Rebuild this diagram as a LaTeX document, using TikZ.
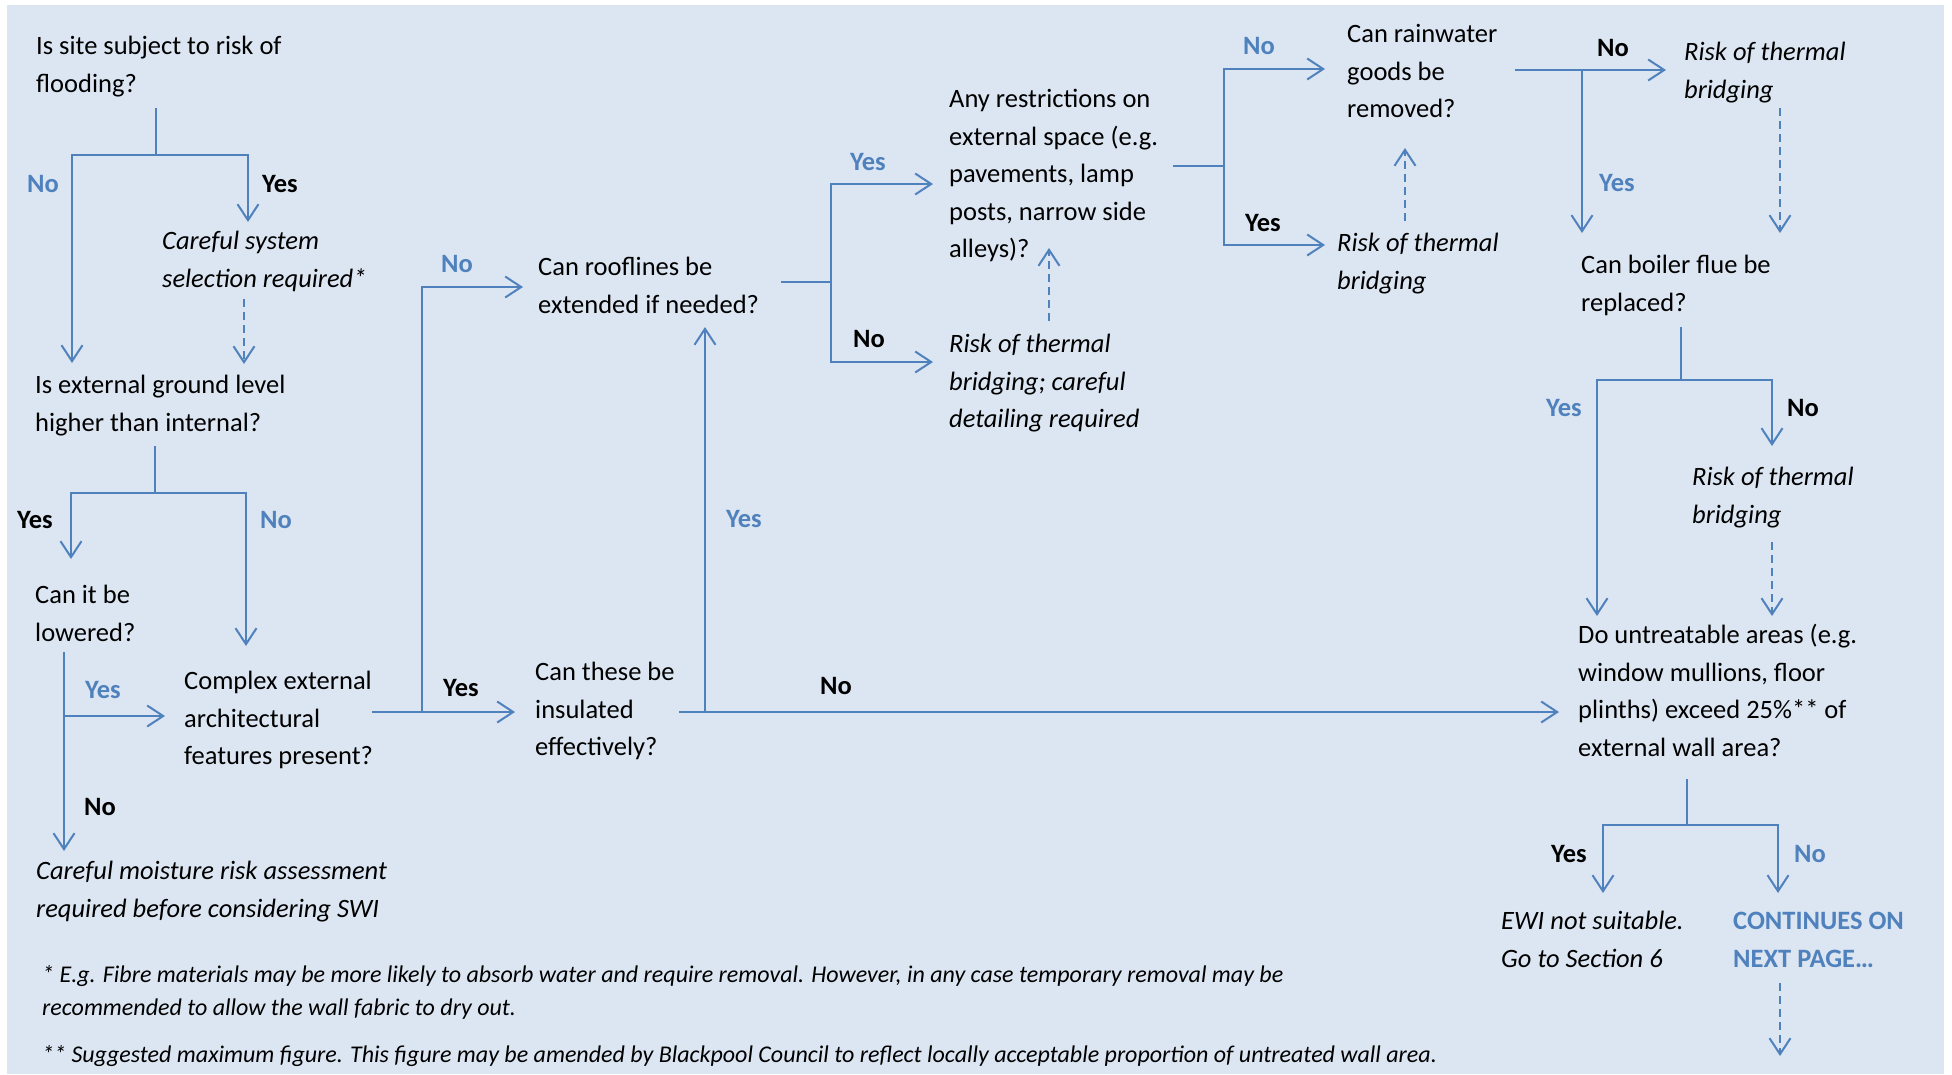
\documentclass[tikz,border=0pt]{standalone}
\usepackage{fontspec}
\setmainfont{Carlito}
\usetikzlibrary{arrows.meta}
\definecolor{bgblue}{HTML}{DCE6F2}
\definecolor{lnblue}{HTML}{4F81BD}
\begin{document}
\begin{tikzpicture}[x=1pt,y=-1pt,
  txt/.style={anchor=base west, inner sep=0pt, align=left, yshift=-1.5pt, font=\fontsize{26.5}{37.5}\selectfont},
  itx/.style={txt, font=\fontsize{26.5}{37.5}\selectfont\itshape},
  lblue/.style={anchor=base west, inner sep=0pt, align=left, text=lnblue, font=\fontsize{26.5}{37.5}\selectfont\bfseries},
  lblack/.style={anchor=base west, inner sep=0pt, font=\fontsize{26.5}{37.5}\selectfont\bfseries},
  foot/.style={anchor=base west, inner sep=0pt, align=left, font=\fontsize{24}{33}\selectfont\itshape},
  conn/.style={draw=lnblue, line width=2pt},
  tipb/.tip={Straight Barb[length=16pt,width=21pt]},
  arr/.style={conn, -tipb},
  darr/.style={draw=lnblue, line width=2pt, dash pattern=on 8pt off 5pt, -tipb},
]
\useasboundingbox (0,0) rectangle (1952,1074);
\fill[white] (0,0) rectangle (1952,1074);
\fill[bgblue] (7,5) rectangle (1944,1074);

% ---------- text nodes (anchored at the baseline of the last line) ----------
\node[txt] (q1) at (36,90.5) {Is site subject to risk of\\flooding?};
\node[itx] (cs) at (162,285.5) {Careful system\\selection required*};
\node[txt] (q2) at (35,429.5) {Is external ground level\\higher than internal?};
\node[txt] (q3) at (35,639.5) {Can it be\\lowered?};
\node[itx] (cm) at (36,915.5) {Careful moisture risk assessment\\required before considering SWI};
\node[txt] (q4) at (184,763) {Complex external\\architectural\\features present?};
\node[txt] (q5) at (538,311.5) {Can rooflines be\\extended if needed?};
\node[txt] (q6) at (535,754) {Can these be\\insulated\\effectively?};
\node[txt] (q7) at (949,256) {Any restrictions on\\external space (e.g.\\pavements, lamp\\posts, narrow side\\alleys)?};
\node[itx] (r1) at (949,426) {Risk of thermal\\bridging; careful\\detailing required};
\node[txt] (q8) at (1347,116) {Can rainwater\\goods be\\removed?};
\node[itx] (r2) at (1337,287.5) {Risk of thermal\\bridging};
\node[itx] (r3) at (1684,96.5) {Risk of thermal\\bridging};
\node[txt] (q9) at (1581,309.5) {Can boiler flue be\\replaced?};
\node[itx] (r4) at (1692,521.5) {Risk of thermal\\bridging};
\node[txt] (q10) at (1578,754.5) {Do untreatable areas (e.g.\\window mullions, floor\\plinths) exceed 25\%** of\\external wall area?};
\node[itx] (e1) at (1501,965.5) {EWI not suitable.\\Go to Section 6};
\node[lblue] (c1) at (1733,967) {CONTINUES ON\\NEXT PAGE…};
\node[foot] (f1) at (42,1015) {* E.g. Fibre materials may be more likely to absorb water and require removal. However, in any case temporary removal may be\\recommended to allow the wall fabric to dry out.};
\node[foot] (f2) at (42,1062) {** Suggested maximum figure. This figure may be amended by Blackpool Council to reflect locally acceptable proportion of untreated wall area.};

% ---------- labels ----------
\node[lblue]  (l1n) at (27,192) {No};
\node[lblack] (l1y) at (262,192) {Yes};
\node[lblack] (l2y) at (17,528) {Yes};
\node[lblue]  (l2n) at (260,528) {No};
\node[lblue]  (l3y) at (85,698) {Yes};
\node[lblack] (l3n) at (84,815) {No};
\node[lblue]  (l4n) at (441,272) {No};
\node[lblack] (l4y) at (443,696) {Yes};
\node[lblue]  (l5y) at (726,527) {Yes};
\node[lblack] (l5n) at (820,694) {No};
\node[lblue]  (l6y) at (850,170) {Yes};
\node[lblack] (l6n) at (853,347) {No};
\node[lblue]  (l7n) at (1243,54) {No};
\node[lblack] (l7y) at (1245,231) {Yes};
\node[lblack] (l8n) at (1597,56) {No};
\node[lblue]  (l8y) at (1599,191) {Yes};
\node[lblue]  (l9y) at (1546,416) {Yes};
\node[lblack] (l9n) at (1787,416) {No};
\node[lblack] (l10y) at (1551,862) {Yes};
\node[lblue]  (l10n) at (1794,862) {No};

% ---------- coordinates ----------
\coordinate (a1) at (156,108);  \coordinate (a1j) at (156,155);
\coordinate (a1l) at (72,155);  \coordinate (a1r) at (248,155);
\coordinate (a1lt) at (72,363); \coordinate (a1rt) at (248,222);
\coordinate (d1s) at (244,299); \coordinate (d1t) at (244,364);

\coordinate (a2) at (155,446);  \coordinate (a2j) at (155,493);
\coordinate (a2l) at (71,493);  \coordinate (a2r) at (246,493);
\coordinate (a2lt) at (71,559); \coordinate (a2rt) at (246,646);

\coordinate (a3) at (64,652);   \coordinate (a3j) at (64,716);
\coordinate (a3t) at (64,851);  \coordinate (a3rt) at (165,716);

\coordinate (a4) at (372,712);  \coordinate (a4j) at (422,712);
\coordinate (a4t) at (515,712); \coordinate (a4u) at (422,287);
\coordinate (a4ut) at (523,287);

\coordinate (a6) at (679,712);  \coordinate (a6j) at (705,712);
\coordinate (a6t) at (1559,712); \coordinate (a6ut) at (705,327);

\coordinate (a5) at (781,282);  \coordinate (a5j) at (831,282);
\coordinate (a5u) at (831,184); \coordinate (a5d) at (831,362);
\coordinate (a5ut) at (933,184); \coordinate (a5dt) at (933,362);
\coordinate (d5s) at (1049,321); \coordinate (d5t) at (1049,248);

\coordinate (a7) at (1173,166); \coordinate (a7j) at (1224,166);
\coordinate (a7u) at (1224,69); \coordinate (a7d) at (1224,245);
\coordinate (a7ut) at (1325,69); \coordinate (a7dt) at (1325,245);
\coordinate (d7s) at (1405,221); \coordinate (d7t) at (1405,148);

\coordinate (a8) at (1515,70);  \coordinate (a8j) at (1582,70);
\coordinate (a8t) at (1666,70); \coordinate (a8dt) at (1582,233);
\coordinate (d8s) at (1780,108); \coordinate (d8t) at (1780,233);

\coordinate (a9) at (1681,327); \coordinate (a9j) at (1681,380);
\coordinate (a9l) at (1597,380); \coordinate (a9r) at (1772,380);
\coordinate (a9lt) at (1597,616); \coordinate (a9rt) at (1772,446);
\coordinate (d9s) at (1772,542); \coordinate (d9t) at (1772,616);

\coordinate (a10) at (1687,779); \coordinate (a10j) at (1687,825);
\coordinate (a10l) at (1603,825); \coordinate (a10r) at (1778,825);
\coordinate (a10lt) at (1603,893); \coordinate (a10rt) at (1778,893);
\coordinate (d10s) at (1780,983); \coordinate (d10t) at (1780,1056);

% ---------- connectors ----------
\draw[conn] (a1) -- (a1j);
\draw[conn, tipb-tipb] (a1lt) -- (a1l) -- (a1r) -- (a1rt);
\draw[darr] (d1s) -- (d1t);

\draw[conn] (a2) -- (a2j);
\draw[conn, tipb-tipb] (a2lt) -- (a2l) -- (a2r) -- (a2rt);

\draw[arr] (a3) -- (a3t);
\draw[arr] (a3j) -- (a3rt);

\draw[arr] (a4) -- (a4t);
\draw[arr] (a4j) -- (a4u) -- (a4ut);

\draw[arr] (a6) -- (a6t);
\draw[arr] (a6j) -- (a6ut);

\draw[conn] (a5) -- (a5j);
\draw[conn, tipb-tipb] (a5ut) -- (a5u) -- (a5d) -- (a5dt);
\draw[darr] (d5s) -- (d5t);

\draw[conn] (a7) -- (a7j);
\draw[conn, tipb-tipb] (a7ut) -- (a7u) -- (a7d) -- (a7dt);
\draw[darr] (d7s) -- (d7t);

\draw[arr] (a8) -- (a8t);
\draw[arr] (a8j) -- (a8dt);
\draw[darr] (d8s) -- (d8t);

\draw[conn] (a9) -- (a9j);
\draw[conn, tipb-tipb] (a9lt) -- (a9l) -- (a9r) -- (a9rt);
\draw[darr] (d9s) -- (d9t);

\draw[conn] (a10) -- (a10j);
\draw[conn, tipb-tipb] (a10lt) -- (a10l) -- (a10r) -- (a10rt);
\draw[darr] (d10s) -- (d10t);
\end{tikzpicture}
\end{document}
